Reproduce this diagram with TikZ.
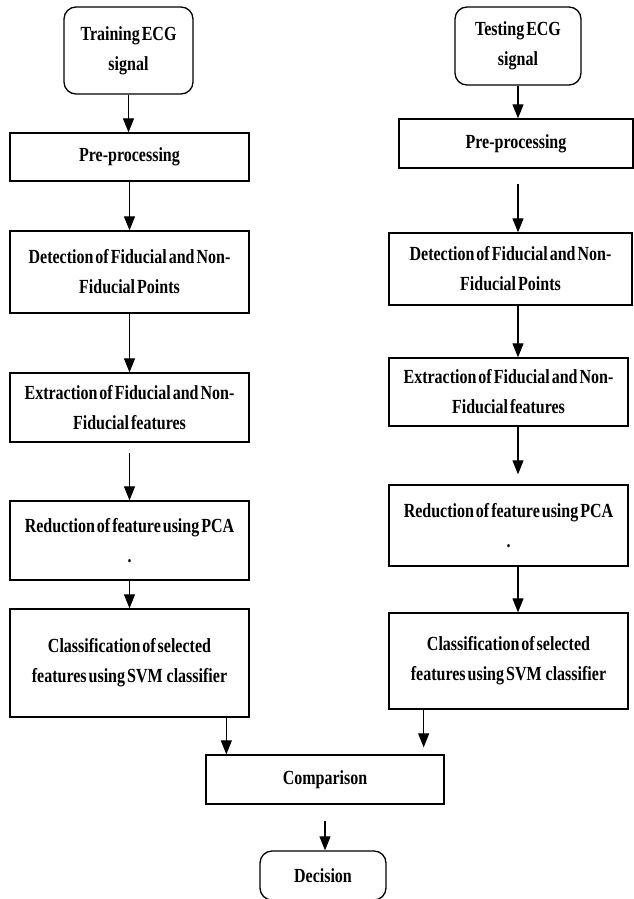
\documentclass[tikz,border=0pt]{standalone}
\usepackage{fontspec}
\setmainfont[FakeStretch=0.8, WordSpace=0.5]{Liberation Serif}
\usepackage{tikz}
\usetikzlibrary{positioning, calc, arrows.meta}

\begin{document}
\begin{tikzpicture}[x=1pt, y=-1pt]
		\tikzstyle{stepbox}=[draw=black, line width=1.3pt, text=black, align=center, inner sep=0pt, font=\fontsize{20}{30}\selectfont\bfseries]
		\tikzstyle{sigbox}=[stepbox, rounded corners=12pt]
		\tikzstyle{arr}=[line width=1.1pt, -{Triangle[length=14pt, width=11pt]}]
		
		\useasboundingbox (0,0) rectangle (634,899);
		
		%% training side
		\node [sigbox, minimum width=129pt, minimum height=87pt] (train) at (128.5,50.5) {Training ECG\\signal};
		\node [stepbox, minimum width=239pt, minimum height=48pt] (preL) at (129.5,157) {Pre-processing};
		\node [stepbox, minimum width=239pt, minimum height=82pt] (detL) at (129.5,272) {Detection of Fiducial and Non-\\Fiducial Points};
		\node [stepbox, minimum width=239pt, minimum height=69pt] (extL) at (129.5,407.5) {Extraction of Fiducial and Non-\\Fiducial features};
		\node [stepbox, minimum width=239pt, minimum height=79pt] (redL) at (129.5,540.5) {Reduction of feature using PCA\\.};
		\node [stepbox, minimum width=239pt, minimum height=108pt] (clsL) at (129.5,663) {Classification of selected\\features using SVM~ classifier};
		
		%% testing side
		\node [sigbox, minimum width=126pt, minimum height=78pt] (test) at (518,46) {Testing ECG\\signal};
		\node [stepbox, minimum width=234pt, minimum height=49pt] (preR) at (516,143.5) {Pre-processing};
		\node [stepbox, minimum width=243pt, minimum height=72pt] (detR) at (510.5,269) {Detection of Fiducial and Non-\\Fiducial Points};
		\node [stepbox, minimum width=239pt, minimum height=68pt] (extR) at (508.5,392) {Extraction of Fiducial and Non-\\Fiducial features};
		\node [stepbox, minimum width=239pt, minimum height=81pt] (redR) at (508.5,525.5) {Reduction of feature using PCA\\.};
		\node [stepbox, minimum width=239pt, minimum height=96pt] (clsR) at (508.5,661) {Classification of selected\\features using SVM~ classifier};
		
		%% common part
		\node [stepbox, minimum width=238pt, minimum height=49pt] (comp) at (325,779.5) {Comparison};
		\node [sigbox, minimum width=126pt, minimum height=49pt] (dec) at (323,875.5) {Decision};
		
		\coordinate (inL) at ([xshift=21pt]comp.north west);
		\coordinate (inR) at ([xshift=-21pt]comp.north east);
		
		\draw [arr] (train.south) -- (train.south |- preL.north);
		\draw [arr] (preL.south) -- (preL.south |- detL.north);
		\draw [arr] (detL.south) -- (detL.south |- extL.north);
		\draw [arr, shorten <=10pt] (extL.south) -- (extL.south |- redL.north);
		\draw [arr] (redL.south) -- (redL.south |- clsL.north);
		\draw [arr] (clsL.south -| inL) -- (inL);
		
		\draw [arr] (test.south) -- (test.south |- preR.north);
		\draw [arr, shorten <=15pt] (preR.south -| test.south) -- (detR.north -| test.south);
		\draw [arr] (detR.south -| test.south) -- (extR.north -| test.south);
		\draw [arr, shorten >=10pt] (extR.south -| test.south) -- (redR.north -| test.south);
		\draw [arr] (redR.south -| test.south) -- (clsR.north -| test.south);
		\draw [arr, shorten >=7pt] (clsR.south -| inR) -- (inR);
		
		\draw [arr, shorten <=16pt] (comp.south) -- (comp.south |- dec.north);
		
\end{tikzpicture}
\end{document}
